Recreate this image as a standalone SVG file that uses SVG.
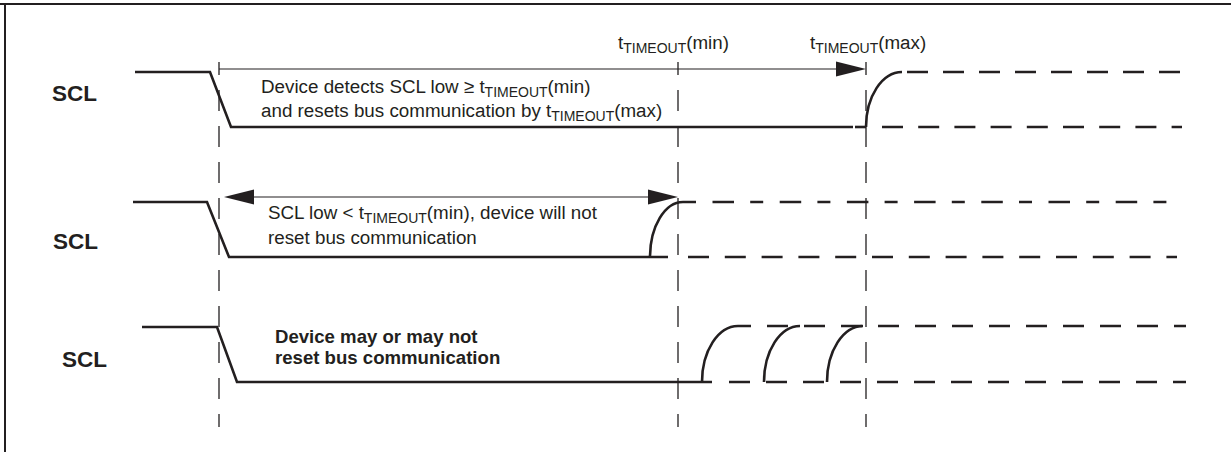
<svg xmlns="http://www.w3.org/2000/svg" width="1231" height="452" viewBox="0 0 1231 452">
<defs>
<style>
.frame{stroke:#231f20;stroke-width:2;fill:none}
.wave{stroke:#231f20;stroke-width:2.6;fill:none}
.dash{stroke:#231f20;stroke-width:2.6;fill:none}
.grid{stroke:#231f20;stroke-width:1.3;fill:none;stroke-dasharray:21 15;stroke-dashoffset:8}
.dim{stroke:#231f20;stroke-width:1.2;fill:none}
.head{fill:#231f20}
.lbl{font-family:"Liberation Sans",Arial,sans-serif;font-size:22.5px;font-weight:bold;fill:#231f20}
.txt{font-family:"Liberation Sans",Arial,sans-serif;font-size:18.8px;fill:#231f20}
.btxt{font-family:"Liberation Sans",Arial,sans-serif;font-size:18.6px;font-weight:bold;fill:#231f20}
.sub{font-size:14px}
</style>
</defs>
<rect width="1231" height="452" fill="#fff"/>
<g id="frame">
<line class="frame" x1="0" y1="4" x2="1231" y2="4"/>
<line class="frame" x1="5" y1="4" x2="5" y2="452"/>
</g>
<g id="connectors">
<line class="grid" x1="219" y1="62" x2="219" y2="427"/>
<line class="grid" x1="678" y1="62" x2="678" y2="427"/>
<line class="grid" x1="866" y1="62" x2="866" y2="427"/>
<line class="dim" x1="219" y1="69" x2="840" y2="69"/>
<polygon class="head" points="836,61.5 866,69 836,76.5"/>
<line class="dim" x1="250" y1="197" x2="652" y2="197"/>
<polygon class="head" points="254,189.5 224,197 254,204.5"/>
<polygon class="head" points="648,189.5 678,197 648,204.5"/>
</g>
<g id="labels-top">
<text class="txt" x="618" y="49">t<tspan class="sub" dy="4">TIMEOUT</tspan><tspan dy="-4">(min)</tspan></text>
<text class="txt" x="810" y="49">t<tspan class="sub" dy="4">TIMEOUT</tspan><tspan dy="-4">(max)</tspan></text>
</g>
<g id="row1">
<text class="lbl" x="52" y="101">SCL</text>
<path class="wave" d="M135,72 H210 L231,127 H853"/>
<path class="wave" d="M866,127 A36,55 0 0 1 902,72"/>
<line class="dash" x1="855" y1="127" x2="866" y2="127"/>
<line class="dash" x1="902" y1="72" x2="1187" y2="72" style="stroke-dasharray:21 15;stroke-dashoffset:-5"/>
<line class="dash" x1="882" y1="127" x2="1182" y2="127" style="stroke-dasharray:21 15.2"/>
<text class="txt" x="261" y="93">Device detects SCL low ≥ t<tspan class="sub" dy="4">TIMEOUT</tspan><tspan dy="-4">(min)</tspan></text>
<text class="txt" x="261" y="117">and resets bus communication by t<tspan class="sub" dy="4">TIMEOUT</tspan><tspan dy="-4">(max)</tspan></text>
</g>
<g id="row2">
<text class="lbl" x="53" y="249">SCL</text>
<path class="wave" d="M133,202 H207 L229,257 H668"/>
<path class="wave" d="M650,257 A33,55 0 0 1 683,202"/>
<line class="dash" x1="683" y1="202" x2="1177" y2="202" style="stroke-dasharray:13 16.5 21.5 16.2;stroke-dashoffset:0"/>
<line class="dash" x1="688" y1="257" x2="1177" y2="257" style="stroke-dasharray:21 15.8"/>
<text class="txt" x="268" y="219">SCL low &lt; t<tspan class="sub" dy="4">TIMEOUT</tspan><tspan dy="-4">(min), device will not</tspan></text>
<text class="txt" x="268" y="244">reset bus communication</text>
</g>
<g id="row3">
<text class="lbl" x="62" y="367">SCL</text>
<path class="wave" d="M142,327 H217 L237,382 H712"/>
<path class="wave" d="M702,382 A36,56 0 0 1 738,326"/>
<path class="wave" d="M764,382 A36,56 0 0 1 800,326"/>
<path class="wave" d="M827,382 A36,56 0 0 1 863,326"/>
<line class="dash" x1="738" y1="326" x2="1186" y2="326" style="stroke-dasharray:21 16;stroke-dashoffset:8"/>
<line class="dash" x1="729" y1="382" x2="1186" y2="382" style="stroke-dasharray:21 16"/>
<text class="btxt" x="275" y="343">Device may or may not</text>
<text class="btxt" x="275" y="364">reset bus communication</text>
</g>
</svg>
